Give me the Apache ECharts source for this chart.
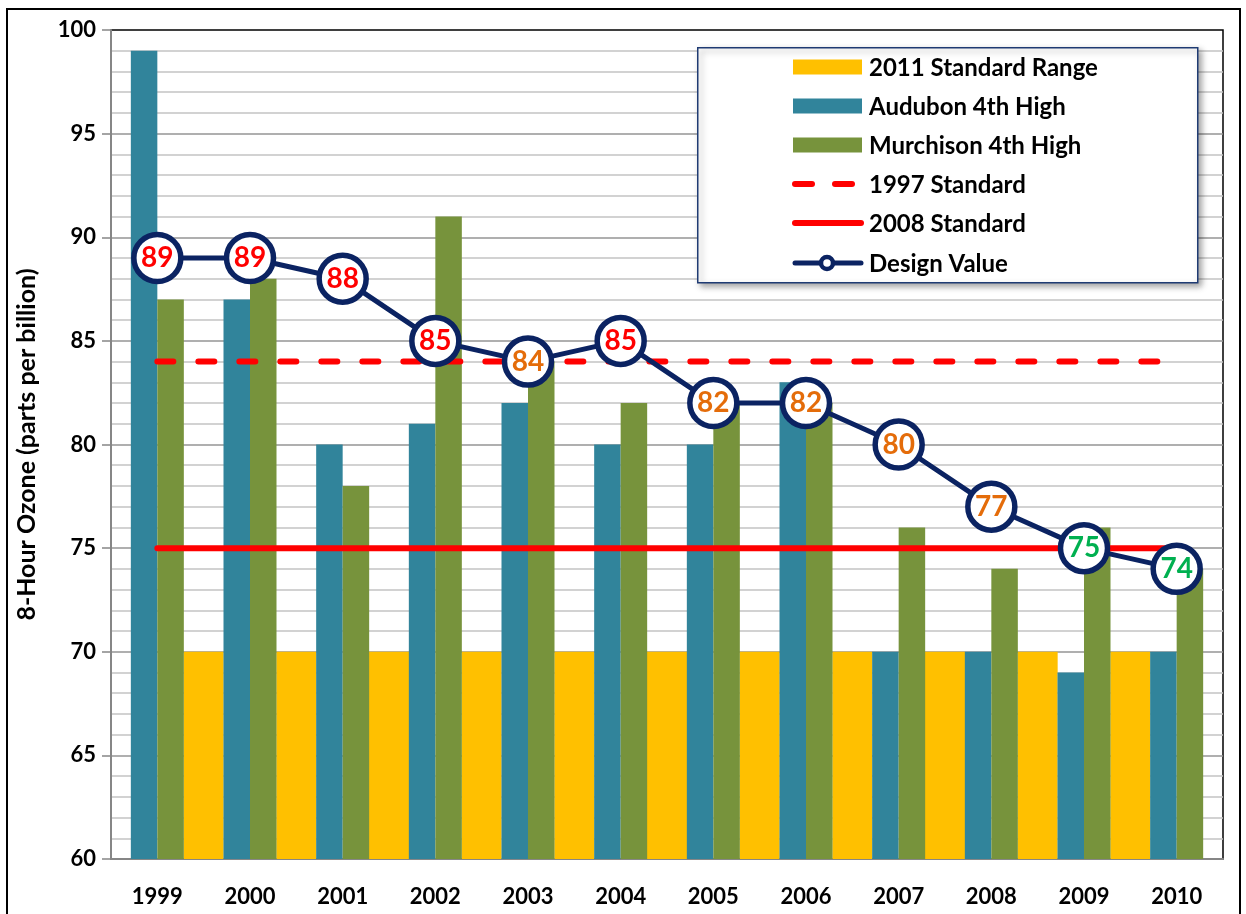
<!DOCTYPE html>
<html>
<head>
<meta charset="utf-8">
<script src="https://cdn.jsdelivr.net/npm/echarts@6/dist/echarts.min.js"></script>
<style>
html,body{margin:0;padding:0;background:#fff;}
#chart{width:1246px;height:914px;}
</style>
</head>
<body>
<div id="chart"></div>
<script>
// ---- data ----
var years = ['1999','2000','2001','2002','2003','2004','2005','2006','2007','2008','2009','2010'];
var audubon = [99, 87, 80, 81, 82, 80, 80, 83, 70, 70, 69, 70];
var murchison = [87, 88, 78, 91, 84, 82, 82, 82, 76, 74, 76, 74];
var designValue = [89, 89, 88, 85, 84, 85, 82, 82, 80, 77, 75, 74];
var std1997 = [84, 84, 84, 84, 84, 84, 84, 84, 84, 84, 84, 84];
var std2008 = [75, 75, 75, 75, 75, 75, 75, 75, 75, 75, 75, 75];
// 2011 standard range bars sit between consecutive years (positions between categories)
var stdRangePos = [0.5, 1.5, 2.5, 3.5, 4.5, 5.5, 6.5, 7.5, 8.5, 9.5, 10.5];
var stdRange2011 = [70, 70, 70, 70, 70, 70, 70, 70, 70, 70, 70];
var yTicks = [60, 65, 70, 75, 80, 85, 90, 95, 100];

var FONT = 'Lato, "Open Sans", sans-serif';
var NAVY = '#0B2362';

function dvColor(v) {
  if (v >= 85) return '#FF0000';
  if (v >= 76) return '#E46C0A';
  return '#00B050';
}

var chart = echarts.init(document.getElementById('chart'), null, {renderer: 'canvas'});

var legendItems = [
  {name: '2011 Standard Range', type: 'rect', color: '#FFC000'},
  {name: 'Audubon 4th High', type: 'rect', color: '#31849B'},
  {name: 'Murchison 4th High', type: 'rect', color: '#77933C'},
  {name: '1997 Standard', type: 'dash', color: '#FF0000'},
  {name: '2008 Standard', type: 'line', color: '#FF0000'},
  {name: 'Design Value', type: 'marker', color: NAVY}
];
var legendGraphics = [];
legendGraphics.push({
  type: 'rect', left: 697, top: 47, z: 100,
  shape: {width: 500, height: 235},
  style: {fill: '#fff', stroke: '#1F3B73', lineWidth: 1.5, shadowBlur: 6, shadowOffsetX: 3, shadowOffsetY: 3, shadowColor: 'rgba(0,0,0,0.35)'}
});
var rowY = [67, 106, 145, 184, 223, 263];
legendItems.forEach(function (it, i) {
  var cy = rowY[i];
  if (it.type === 'rect') {
    legendGraphics.push({type: 'rect', z: 101, shape: {x: 793, y: cy - 7.5, width: 69, height: 15}, style: {fill: it.color}});
  } else if (it.type === 'dash') {
    legendGraphics.push({type: 'line', z: 101, shape: {x1: 795, y1: cy, x2: 812, y2: cy}, style: {stroke: it.color, lineWidth: 6, lineCap: 'round'}});
    legendGraphics.push({type: 'line', z: 101, shape: {x1: 835, y1: cy, x2: 852, y2: cy}, style: {stroke: it.color, lineWidth: 6, lineCap: 'round'}});
  } else if (it.type === 'line') {
    legendGraphics.push({type: 'line', z: 101, shape: {x1: 795, y1: cy, x2: 861, y2: cy}, style: {stroke: it.color, lineWidth: 6, lineCap: 'round'}});
  } else {
    legendGraphics.push({type: 'line', z: 101, shape: {x1: 795, y1: cy, x2: 861, y2: cy}, style: {stroke: it.color, lineWidth: 5, lineCap: 'round'}});
    legendGraphics.push({type: 'circle', z: 102, shape: {cx: 827, cy: cy, r: 6}, style: {fill: '#fff', stroke: it.color, lineWidth: 4.5}});
  }
  legendGraphics.push({
    type: 'text', z: 102, x: 869, y: cy + 1,
    style: {text: it.name, fill: '#000', font: 'bold 24px ' + FONT, verticalAlign: 'middle', align: 'left'}
  });
});
// outer frame
legendGraphics.push({
  type: 'rect', z: 200, silent: true,
  shape: {x: 7, y: 9, width: 1233, height: 920},
  style: {fill: 'none', stroke: '#000', lineWidth: 2}
});

var option = {
  backgroundColor: '#fff',
  animation: false,
  textStyle: {fontFamily: FONT},
  grid: {left: 111, top: 30, right: 23, bottom: 55, show: true, borderColor: '#000', borderWidth: 1.5, backgroundColor: '#fff'},
  xAxis: [
    {
      type: 'category', data: years, boundaryGap: true,
      axisLine: {onZero: false, lineStyle: {color: '#868686', width: 2}},
      axisTick: {show: false},
      axisLabel: {color: '#000', fontSize: 22, fontWeight: 'bold', fontFamily: FONT, margin: 27},
      splitLine: {show: false}
    },
    {
      type: 'value', min: -0.5, max: 11.5, show: false,
      axisLine: {show: false, onZero: false}, splitLine: {show: false}
    }
  ],
  yAxis: {
    type: 'value', min: yTicks[0], max: yTicks[yTicks.length - 1], interval: 5,
    name: '8-Hour Ozone (parts per billion)', nameLocation: 'middle', nameRotate: 90, nameGap: 72,
    nameTextStyle: {color: '#000', fontSize: 25, fontWeight: 'bold', fontFamily: FONT},
    axisLine: {show: true, onZero: false, lineStyle: {color: '#868686', width: 2}},
    axisTick: {show: true, inside: false, length: 9, lineStyle: {color: '#868686', width: 1.5}},
    axisLabel: {color: '#000', fontSize: 22, fontWeight: 'bold', fontFamily: FONT, margin: 15},
    splitLine: {show: true, showMaxLine: false, lineStyle: {color: '#959595', width: 1.5}},
    minorTick: {show: false, splitNumber: 5},
    minorSplitLine: {show: true, lineStyle: {color: '#C3C3C3', width: 1.5}}
  },
  series: [
    {
      name: '2011 Standard Range', type: 'bar', xAxisIndex: 1, yAxisIndex: 0,
      barWidth: 40, z: 2,
      itemStyle: {color: '#FFC000'},
      data: stdRangePos.map(function (p, i) { return [p, stdRange2011[i]]; })
    },
    {
      name: 'Audubon 4th High', type: 'bar', xAxisIndex: 0, barWidth: 26.5, barGap: '0%', z: 2,
      itemStyle: {color: '#31849B'},
      data: audubon
    },
    {
      name: 'Murchison 4th High', type: 'bar', xAxisIndex: 0, barWidth: 26.5, barGap: '0%', z: 2,
      itemStyle: {color: '#77933C'},
      data: murchison
    },
    {
      name: '1997 Standard', type: 'line', xAxisIndex: 0, symbol: 'none', z: 3,
      lineStyle: {color: '#FF0000', width: 6, type: [16, 25], cap: 'round'},
      data: std1997
    },
    {
      name: '2008 Standard', type: 'line', xAxisIndex: 0, symbol: 'none', z: 3,
      lineStyle: {color: '#FF0000', width: 6, cap: 'round'},
      data: std2008
    },
    {
      name: 'Design Value', type: 'line', xAxisIndex: 0, z: 4,
      symbol: 'circle', symbolSize: 47,
      lineStyle: {color: NAVY, width: 5},
      itemStyle: {color: '#fff', borderColor: NAVY, borderWidth: 5.5},
      label: {show: true, position: 'inside', fontSize: 28, fontWeight: 'bold', fontFamily: FONT},
      data: designValue.map(function (v) {
        return {value: v, label: {color: dvColor(v)}};
      })
    }
  ],
  graphic: legendGraphics
};
chart.setOption(option);
</script>
</body>
</html>
